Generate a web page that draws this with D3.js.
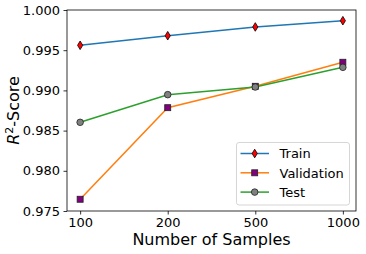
<!DOCTYPE html>
<html><head><meta charset="utf-8">
<script src="https://cdn.jsdelivr.net/npm/d3@7"></script>
<style>body{margin:0;background:#fff}svg{display:block}text{font-family:"DejaVu Sans",sans-serif}</style>
</head><body><div id="c"></div>
<script>
const categories = ["100","200","500","1000"];
const trainValues = [0.99561, 0.99680, 0.99789, 0.99867];
const validationValues = [0.97646, 0.98785, 0.99051, 0.99350];
const testValues = [0.98603, 0.98947, 0.99042, 0.99287];
const yTicks = [0.975, 0.980, 0.985, 0.990, 0.995, 1.000];
const seriesNames = ["Train","Validation","Test"];

const W=366,H=254;
const m={l:67,r:10,t:10,b:43};
const svg=d3.select("#c").append("svg").attr("width",W).attr("height",H);
const x=d3.scalePoint().domain(categories).range([m.l,W-m.r]).padding(0.15);
const y=d3.scaleLinear().domain([0.975,1.0]).range([H-m.b,m.t]);

const series=[
 {name:seriesNames[0],vals:trainValues,color:"#1f77b4",marker:"diamond",fill:"#ff0000"},
 {name:seriesNames[1],vals:validationValues,color:"#ff7f0e",marker:"square",fill:"#800080"},
 {name:seriesNames[2],vals:testValues,color:"#2ca02c",marker:"circle",fill:"#808080"}
];
function marker(g,type,fill){
  if(type==="diamond") g.append("path").attr("d","M0,-4.3L2.6,0L0,4.3L-2.6,0Z").attr("fill",fill).attr("stroke","#000").attr("stroke-width",0.8);
  else if(type==="square") g.append("rect").attr("x",-3).attr("y",-3).attr("width",6).attr("height",6).attr("fill",fill).attr("stroke","#222").attr("stroke-width",0.8);
  else g.append("circle").attr("r",3.3).attr("fill",fill).attr("stroke","#222").attr("stroke-width",0.8);
}

const line=d3.line().x((d,i)=>x(categories[i])).y(d=>y(d));
series.forEach(s=>{
  svg.append("path").datum(s.vals).attr("d",line).attr("fill","none").attr("stroke",s.color).attr("stroke-width",1.5);
  s.vals.forEach((v,i)=>{
    const g=svg.append("g").attr("transform",`translate(${x(categories[i])},${y(v)})`);
    marker(g,s.marker,s.fill);
  });
});

// axes
const yAxis=d3.axisLeft(y).tickValues(yTicks).tickFormat(d3.format(".3f")).tickSize(3.5).tickPadding(3.5);
const xAxis=d3.axisBottom(x).tickSize(3.5).tickPadding(3);
const gy=svg.append("g").attr("transform",`translate(${m.l},0)`).call(yAxis);
const gx=svg.append("g").attr("transform",`translate(0,${H-m.b})`).call(xAxis);
[gx,gy].forEach(g=>{g.select(".domain").remove();g.selectAll("text").attr("font-size",13).attr("fill","#000").style("font-family","DejaVu Sans");g.selectAll("line").attr("stroke","#000").attr("stroke-width",0.8);});
svg.append("rect").attr("x",m.l).attr("y",m.t).attr("width",W-m.l-m.r).attr("height",H-m.t-m.b).attr("fill","none").attr("stroke","#000").attr("stroke-width",0.8);

svg.append("text").attr("x",(m.l+W-m.r)/2).attr("y",245).attr("text-anchor","middle").attr("font-size",16).text("Number of Samples");
const yl=svg.append("text").attr("transform",`translate(18.5,${(m.t+H-m.b)/2}) rotate(-90)`).attr("text-anchor","middle").attr("font-size",16);
yl.append("tspan").attr("font-style","italic").text("R");
yl.append("tspan").attr("font-size",11).attr("dy",-6).text("2");
yl.append("tspan").attr("dy",6).text("-Score");

// legend
const lg=svg.append("g");
lg.append("rect").attr("x",236.5).attr("y",142.5).attr("width",113).attr("height",62.5).attr("rx",2.5).attr("fill","#fff").attr("fill-opacity",0.8).attr("stroke","#ccc").attr("stroke-width",0.8);
series.forEach((s,i)=>{
  const yy=153.5+i*19.3;
  lg.append("line").attr("x1",240.5).attr("x2",269).attr("y1",yy).attr("y2",yy).attr("stroke",s.color).attr("stroke-width",1.5);
  marker(lg.append("g").attr("transform",`translate(254.7,${yy})`),s.marker,s.fill);
  lg.append("text").attr("x",279.5).attr("y",yy+4.7).attr("font-size",13).text(s.name);
});
</script></body></html>
